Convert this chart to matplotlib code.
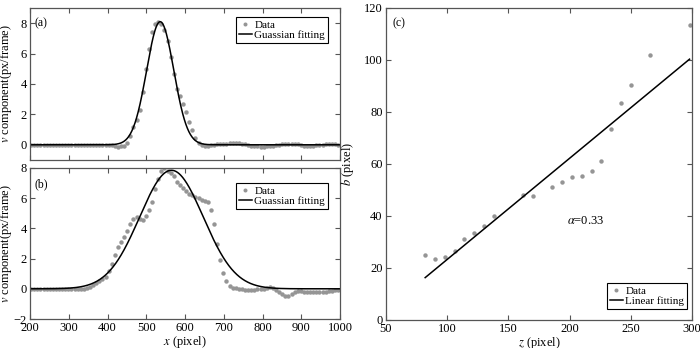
import numpy as np
import matplotlib
matplotlib.use("Agg")
import matplotlib.pyplot as plt

plt.rcParams['font.family'] = ['Liberation Serif', 'DejaVu Serif']
plt.rcParams['mathtext.fontset'] = 'stix'

# ---------------- data ----------------
# sample positions (pixel) for panels (a) and (b)
x_px = list(range(203, 1000, 8))

v_a = [0.0] * 25 + [
    0.0, -0.03, -0.08, -0.12, -0.1, -0.05, 0.15, 0.6, 1.15, 1.6,
    2.3, 3.45, 5.0, 6.3, 7.4, 7.95, 8.1, 7.95, 7.55, 6.85,
    5.8, 4.65, 3.7, 3.2, 2.7, 2.15, 1.5, 0.95, 0.45, 0.15,
    0.0, -0.05, -0.05, -0.03, 0.0, 0.02, 0.04, 0.06, 0.08, 0.1,
    0.12, 0.12, 0.1, 0.08, 0.05, 0.0, -0.05, -0.08, -0.1, -0.12,
    -0.12, -0.1, -0.08, -0.05, -0.02, 0.0, 0.03, 0.05, 0.06, 0.06,
    0.05, 0.02, -0.02, -0.05, -0.06, -0.06, -0.05, -0.04, -0.02, 0.0,
    0.02, 0.03, 0.03, 0.02, 0.0]

v_b = [0.0] * 18 + [
    0.05, 0.1, 0.25, 0.36, 0.5, 0.62, 0.8, 1.15, 1.65, 2.25,
    2.75, 3.13, 3.45, 3.8, 4.3, 4.6, 4.75, 4.65, 4.55, 4.85,
    5.25, 5.75, 6.6, 7.3, 7.8, 7.98, 7.8, 7.65, 7.45, 7.1,
    6.85, 6.65, 6.45, 6.3, 6.2, 6.1, 6.0, 5.9, 5.82, 5.75,
    5.25, 4.3, 2.95, 1.9, 1.05, 0.5, 0.2, 0.08, 0.02, -0.03,
    -0.04, -0.05, -0.05, -0.05, -0.05, -0.04, -0.03, -0.02, 0.05, 0.1,
    0.08, -0.05, -0.2, -0.32, -0.45, -0.45, -0.35, -0.2, -0.15, -0.15,
    -0.18, -0.2, -0.2, -0.2, -0.2, -0.2, -0.2, -0.18, -0.15, -0.12,
    -0.1, -0.1]

# Gaussian fit parameters (amplitude, centre, sigma)
fit_a = (8.1, 536.0, 35.0)
fit_b = (7.85, 565.0, 82.0)

# panel (c)
z_px = [82, 90, 98, 106, 114, 122, 130, 138, 162, 170, 186,
        194, 202, 210, 218, 226, 234, 242, 250, 266, 298]
b_px = [25.0, 23.3, 24.2, 26.5, 31.0, 33.5, 36.2, 39.9, 48.1, 47.8, 51.0,
        53.0, 55.1, 55.4, 57.2, 61.3, 73.3, 83.5, 90.5, 101.9, 113.5]
lin_slope, lin_intercept = 0.389, -15.6
alpha_text = r'$\alpha$=0.33'

# ---------------- figure ----------------
fig = plt.figure(figsize=(7.0, 3.48), dpi=100)
ax_a = fig.add_axes([30/700, 1-160/348, 310/700, 152/348])
ax_b = fig.add_axes([30/700, 1-319/348, 310/700, 151/348])
ax_c = fig.add_axes([386/700, 1-320/348, 306/700, 312/348])

dot_col = '#959595'
spine_col = '#555555'
xf = np.linspace(200, 1000, 801)
TICK_FS = 9
LAB_FS = 9
LEG_FS = 8


def style(ax):
    for s in ax.spines.values():
        s.set_color(spine_col)
        s.set_linewidth(0.9)
    ax.tick_params(direction='in', top=True, right=True, length=3.5,
                   width=0.8, color=spine_col, labelsize=TICK_FS, pad=2.5)


def gauss(p):
    a, c, s = p
    return a * np.exp(-(xf - c) ** 2 / (2 * s ** 2))


def legend(ax, loc, anchor):
    leg = ax.legend(loc=loc, bbox_to_anchor=anchor, fontsize=LEG_FS,
                    frameon=True, fancybox=False, framealpha=1, edgecolor='black',
                    borderpad=0.25, labelspacing=0.05, handlelength=1.2,
                    handletextpad=0.2, borderaxespad=0, markerscale=0.9)
    leg.get_frame().set_linewidth(0.8)


for ax, v, p, lab, ly, leg_y in [(ax_a, v_a, fit_a, '(a)', 0.90, 0.941),
                                 (ax_b, v_b, fit_b, '(b)', 0.894, 0.901)]:
    ax.plot(x_px, v, 'o', color=dot_col, ms=3.2, mec='none', label='Data')
    ax.plot(xf, gauss(p), '-', color='black', lw=1.1, label='Guassian fitting')
    ax.set_xlim(200, 1000)
    ax.set_xticks(range(200, 1001, 100))
    style(ax)
    ax.text(0.016, ly, lab, transform=ax.transAxes, fontsize=8.5, va='center', ha='left')
    ax.set_ylabel(r'$v$ component(px/frame)', fontsize=LAB_FS)
    ax.yaxis.set_label_coords(-0.052, 0.5)
    legend(ax, 'upper right', (0.961, leg_y))

ax_a.set_ylim(-1, 9)
ax_a.set_yticks([0, 2, 4, 6, 8])
ax_a.tick_params(labelbottom=False)
ax_b.set_ylim(-2, 8)
ax_b.set_yticks([-2, 0, 2, 4, 6, 8])
ax_b.set_xlabel(r'$x$ (pixel)', fontsize=LAB_FS, labelpad=-0.5)

# panel (c)
zl = np.array([z_px[0], z_px[-1]])
ax_c.plot(z_px, b_px, 'o', color=dot_col, ms=3.2, mec='none', label='Data', clip_on=False)
ax_c.plot(zl, lin_slope * zl + lin_intercept, '-', color='black', lw=1.1, label='Linear fitting')
ax_c.set_xlim(50, 300)
ax_c.set_ylim(0, 120)
ax_c.set_xticks(range(50, 301, 50))
ax_c.set_yticks(range(0, 121, 20))
style(ax_c)
ax_c.set_xlabel(r'$z$ (pixel)', fontsize=LAB_FS, labelpad=-0.5)
ax_c.set_ylabel(r'$b$ (pixel)', fontsize=LAB_FS)
ax_c.yaxis.set_label_coords(-0.098, 0.5)
ax_c.text(0.02, 0.952, '(c)', transform=ax_c.transAxes, fontsize=8.5, va='center', ha='left')
ax_c.text(198, 38, alpha_text, fontsize=9, va='center', ha='left')
legend(ax_c, 'lower right', (0.984, 0.035))

fig.savefig('out.png', dpi=100)
